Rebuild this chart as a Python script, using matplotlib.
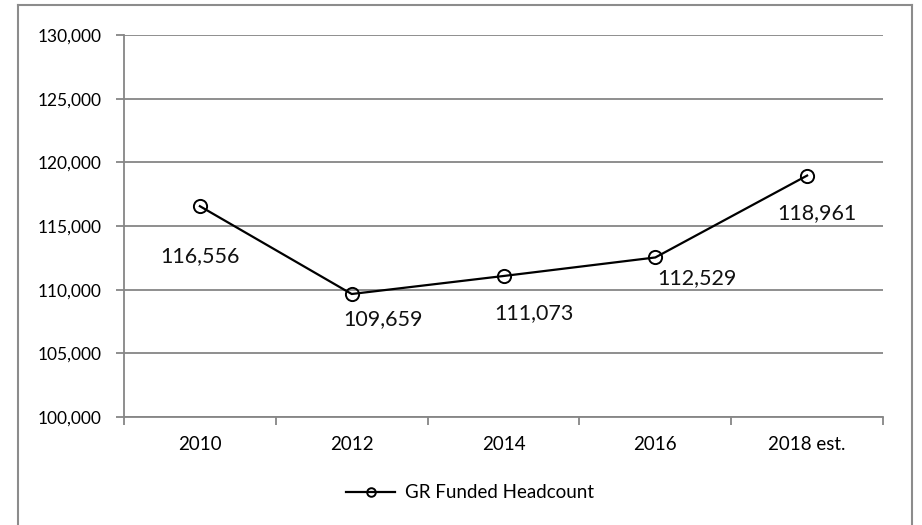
import matplotlib.pyplot as plt
from matplotlib.lines import Line2D
from matplotlib.ticker import FuncFormatter

plt.rcParams['font.family'] = ['Lato', 'DejaVu Sans']

years = ["2010", "2012", "2014", "2016", "2018 est."]
headcount = [116556, 109659, 111073, 112529, 118961]
series_name = "GR Funded Headcount"

# label offsets in pixels (dx, dy) from each point
label_offsets = [(0, -50), (31, -25), (30, -37), (42, -21), (10, -38)]

grid_col = "#868686"

fig = plt.figure(figsize=(9.22, 5.25), dpi=100)
ax = fig.add_axes([124/922, 1 - 417/525, (883 - 124)/922, (417 - 35)/525])

x = range(len(years))
line, = ax.plot(x, headcount, color="black", lw=1.6, marker="o", ms=9.5,
                mfc="none", mec="black", mew=1.4, label=series_name, zorder=3)

for i, v in enumerate(headcount):
    dx, dy = label_offsets[i]
    ax.annotate(f"{v:,}", (i, v), xytext=(dx, dy), textcoords="offset pixels",
                ha="center", va="center", fontsize=15.5, color="#111111")

ax.set_ylim(100000, 130000)
ax.set_yticks(range(100000, 130001, 5000))
ax.yaxis.set_major_formatter(FuncFormatter(lambda v, p: f"{int(v):,}"))
ax.set_xlim(-0.5, len(years) - 0.5)
ax.set_xticks(list(x))
ax.set_xticklabels(years)
ax.set_xticks([i - 0.5 for i in range(len(years) + 1)], minor=True)

ax.grid(axis="y", color=grid_col, lw=1.3)
ax.set_axisbelow(True)
for s in ["top", "right"]:
    ax.spines[s].set_visible(False)
for s in ["left", "bottom"]:
    ax.spines[s].set_color(grid_col)
    ax.spines[s].set_linewidth(1.3)

ax.tick_params(axis="y", length=6, width=1.3, color=grid_col, pad=10, labelsize=12.5)
ax.tick_params(axis="x", which="major", length=0, pad=14, labelsize=13.5)
ax.tick_params(axis="x", which="minor", length=6, width=1.3, color=grid_col)

leg = fig.legend(handles=[line], loc="center", bbox_to_anchor=(470/922, 1 - 493/525),
                 frameon=False, fontsize=13.5, handlelength=2.6, handletextpad=0.5,
                 markerscale=0.65)

# outer chart border
bc = "#8c8c8c"
fig.add_artist(Line2D([18/922, 18/922], [0, 1 - 5/525], color=bc, lw=1.5))
fig.add_artist(Line2D([18/922, 912/922], [1 - 5/525, 1 - 5/525], color=bc, lw=1.5))
fig.add_artist(Line2D([912/922, 912/922], [0, 1 - 5/525], color=bc, lw=1.5))

fig.savefig("out.png", dpi=100)
